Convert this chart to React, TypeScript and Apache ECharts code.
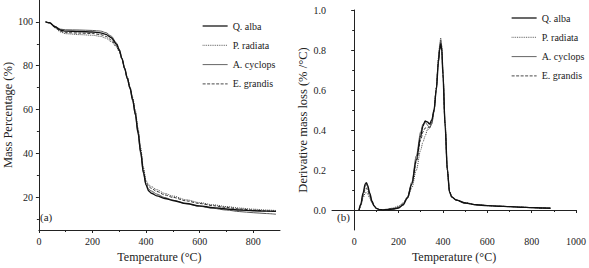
import React, { useEffect, useRef } from "react";
import * as echarts from "echarts";

// ---- Data ----
const SERIES_NAMES = ["Q. alba", "P. radiata", "A. cyclops", "E. grandis"];

// TGA (mass percentage vs temperature)
const TGA_T = [25, 40, 60, 80, 100, 150, 200, 230, 250, 270, 290, 300, 310, 320, 330, 340, 350, 360, 370, 380, 390, 400, 410, 420, 440, 470, 500, 550, 600, 650, 700, 750, 800, 850, 885];
const TGA_QALBA = [100, 99.6, 97.8, 96.3, 95.8, 95.6, 95.4, 95.0, 94.3, 92.8, 89.8, 87.2, 83.3, 78.8, 74.3, 69.8, 64.5, 58, 49.5, 40.5, 31.5, 25.5, 22.8, 21.8, 20.6, 19.4, 18.5, 17.1, 16.0, 15.2, 14.6, 14.1, 13.8, 13.6, 13.5];
const TGA_PRADIATA = [100, 99.5, 97.3, 95.4, 94.6, 94.2, 93.9, 93.4, 92.6, 91.0, 88.5, 86.3, 83.0, 79.0, 75.0, 70.5, 65.5, 59.5, 51.5, 42.5, 33.5, 27.5, 25.6, 24.8, 23.4, 21.7, 20.5, 18.8, 17.5, 16.5, 15.7, 15.0, 14.5, 14.1, 13.9];
const TGA_ACYCLOPS = [100, 99.6, 98.0, 96.7, 96.4, 96.3, 96.1, 95.8, 95.1, 93.5, 90.3, 87.5, 83.3, 78.6, 74.0, 69.5, 64.0, 57.5, 49.0, 40.0, 31.0, 25.8, 23.6, 22.8, 21.4, 19.8, 18.6, 17.0, 15.8, 14.9, 14.1, 13.4, 12.9, 12.5, 12.2];
const TGA_EGRANDIS = [100, 99.5, 97.5, 95.7, 95.1, 94.9, 94.7, 94.2, 93.4, 91.8, 89.0, 86.6, 83.0, 78.8, 74.5, 70.0, 65.0, 58.8, 50.5, 41.5, 32.5, 26.8, 24.8, 24.0, 22.6, 21.0, 19.9, 18.3, 17.1, 16.1, 15.3, 14.6, 14.1, 13.7, 13.5];

// DTG (derivative mass loss vs temperature)
const DTG_T = [22, 30, 40, 50, 55, 60, 70, 80, 90, 100, 115, 130, 150, 175, 200, 220, 240, 260, 280, 300, 310, 320, 330, 340, 350, 360, 370, 380, 385, 390, 395, 400, 410, 420, 430, 440, 460, 500, 550, 600, 650, 700, 750, 800, 850, 885];
const DTG_QALBA = [0.0, 0.03, 0.085, 0.13, 0.137, 0.125, 0.085, 0.045, 0.02, 0.008, 0.002, 0.0, 0.002, 0.005, 0.01, 0.025, 0.06, 0.13, 0.25, 0.37, 0.42, 0.445, 0.44, 0.43, 0.45, 0.5, 0.6, 0.74, 0.8, 0.83, 0.8, 0.68, 0.42, 0.2, 0.09, 0.065, 0.05, 0.035, 0.026, 0.022, 0.019, 0.017, 0.014, 0.012, 0.01, 0.009];
const DTG_PRADIATA = [0.0, 0.02, 0.06, 0.085, 0.088, 0.082, 0.06, 0.035, 0.018, 0.008, 0.003, 0.002, 0.005, 0.01, 0.02, 0.035, 0.06, 0.11, 0.2, 0.3, 0.34, 0.37, 0.4, 0.41, 0.44, 0.5, 0.61, 0.76, 0.82, 0.86, 0.82, 0.7, 0.44, 0.21, 0.09, 0.066, 0.05, 0.036, 0.027, 0.022, 0.019, 0.017, 0.014, 0.012, 0.01, 0.009];
const DTG_ACYCLOPS = [0.0, 0.028, 0.08, 0.12, 0.128, 0.118, 0.08, 0.043, 0.02, 0.008, 0.002, 0.0, 0.002, 0.005, 0.012, 0.028, 0.065, 0.14, 0.27, 0.39, 0.43, 0.44, 0.425, 0.41, 0.43, 0.49, 0.6, 0.75, 0.81, 0.85, 0.81, 0.69, 0.43, 0.2, 0.09, 0.065, 0.05, 0.035, 0.026, 0.022, 0.019, 0.017, 0.014, 0.012, 0.01, 0.009];
const DTG_EGRANDIS = [0.0, 0.025, 0.07, 0.105, 0.11, 0.1, 0.07, 0.04, 0.02, 0.008, 0.002, 0.001, 0.003, 0.007, 0.015, 0.03, 0.063, 0.13, 0.24, 0.35, 0.39, 0.41, 0.41, 0.415, 0.44, 0.5, 0.61, 0.75, 0.8, 0.84, 0.8, 0.68, 0.42, 0.2, 0.09, 0.065, 0.05, 0.035, 0.026, 0.022, 0.019, 0.017, 0.014, 0.012, 0.01, 0.009];

// Tick labels
const A_X_LABELS = [0, 200, 400, 600, 800];
const A_X_MINOR = [100, 300, 500, 700];
const A_Y_LABELS = [20, 40, 60, 80, 100];
const A_Y_MINOR = [10, 30, 50, 70, 90];
const B_X_LABELS = [0, 200, 400, 600, 800, 1000];
const B_X_MINOR = [100, 300, 500, 700, 900];
const B_Y_LABELS = [0, 0.2, 0.4, 0.6, 0.8, 1.0];
const B_Y_MINOR = [0.1, 0.3, 0.5, 0.7, 0.9];

const FONT = "Liberation Serif";
const AX = "#222";

const STYLES = [
  { color: "#111", width: 1.4, type: "solid" },
  { color: "#444", width: 1, type: "dotted" },
  { color: "#555", width: 1, type: "solid" },
  { color: "#333", width: 1, type: [3, 1.5] },
];

function pairs(xs: number[], ys: number[]) {
  return xs.map((x, i) => [x, ys[i]]);
}

function mainAxis(gridIndex: number, min: number, max: number, labels: number[], pos: string, name: string, nameGap: number, nameSize: number, fmt?: (v: number) => string) {
  return {
    type: "value",
    gridIndex,
    position: pos,
    min,
    max,
    name,
    nameLocation: "middle",
    nameGap,
    nameTextStyle: { fontFamily: FONT, fontSize: nameSize, color: AX },
    axisLine: { show: true, lineStyle: { color: AX, width: 1 } },
    axisTick: { show: true, inside: false, length: 3, customValues: labels, lineStyle: { color: AX } },
    axisLabel: {
      show: true,
      customValues: labels,
      fontFamily: FONT,
      fontSize: 10,
      color: AX,
      margin: 6,
      formatter: fmt ? (v: number) => fmt(v) : (v: number) => String(v),
    },
    splitLine: { show: false },
  };
}

function minorAxis(gridIndex: number, min: number, max: number, ticks: number[], pos: string) {
  return {
    type: "value",
    gridIndex,
    position: pos,
    min,
    max,
    axisLine: { show: false },
    axisTick: { show: true, inside: false, length: 2, customValues: ticks, lineStyle: { color: AX } },
    axisLabel: { show: false },
    splitLine: { show: false },
  };
}

export default function App() {
  const ref = useRef<HTMLDivElement>(null);

  useEffect(() => {
    if (!ref.current) return;
    const chart = echarts.init(ref.current, undefined, { renderer: "svg" });

    const tga = [TGA_QALBA, TGA_PRADIATA, TGA_ACYCLOPS, TGA_EGRANDIS];
    const dtg = [DTG_QALBA, DTG_PRADIATA, DTG_ACYCLOPS, DTG_EGRANDIS];

    const series: any[] = [];
    SERIES_NAMES.forEach((name, i) => {
      series.push({
        name,
        type: "line",
        xAxisIndex: 0,
        yAxisIndex: 0,
        data: pairs(TGA_T, tga[i]),
        showSymbol: false,
        symbol: "none",
        smooth: 0.3,
        smoothMonotone: "x",
        lineStyle: { ...STYLES[i] },
        z: 10 - i,
      });
    });
    SERIES_NAMES.forEach((name, i) => {
      series.push({
        name,
        type: "line",
        xAxisIndex: 2,
        yAxisIndex: 2,
        data: pairs(DTG_T, dtg[i]),
        showSymbol: false,
        symbol: "none",
        smooth: 0.3,
        smoothMonotone: "x",
        lineStyle: { ...STYLES[i] },
        z: 10 - i,
      });
    });

    const legendData = SERIES_NAMES.map((name, i) => ({
      name,
      lineStyle: { width: STYLES[i].width * 0.9, type: STYLES[i].type, color: STYLES[i].color },
    }));

    const legendBase = {
      orient: "vertical",
      data: legendData,
      itemWidth: 25,
      itemHeight: 10,
      itemGap: 9.3,
      itemStyle: { opacity: 0 },
      textStyle: { fontFamily: FONT, fontSize: 10, color: AX },
      itemTextGap: 6,
      selectedMode: false,
    };

    chart.setOption({
      animation: false,
      backgroundColor: "#fff",
      textStyle: { fontFamily: FONT },
      grid: [
        { left: 35, top: 0, width: 245, height: 230 },
        { left: 332, top: 10, width: 253, height: 220 },
      ],
      xAxis: [
        mainAxis(0, 0, 900, A_X_LABELS, "bottom", "Temperature (\u00b0C)", 21, 12),
        minorAxis(0, 0, 900, A_X_MINOR, "bottom"),
        mainAxis(1, -100, 1000, B_X_LABELS, "bottom", "Temperature (\u00b0C)", 21, 12),
        minorAxis(1, -100, 1000, B_X_MINOR, "bottom"),
      ],
      yAxis: [
        mainAxis(0, 5, 110, A_Y_LABELS, "left", "Mass Percentage (%)", 22, 12.5),
        minorAxis(0, 5, 110, A_Y_MINOR, "left"),
        mainAxis(1, -0.1, 1.0, B_Y_LABELS, "left", "Derivative mass loss (% /\u00b0C)", 23, 12.5, (v: number) => v.toFixed(1)),
        minorAxis(1, -0.1, 1.0, B_Y_MINOR, "left"),
      ],
      legend: [
        { ...legendBase, left: 197, top: 16 },
        { ...legendBase, left: 506, top: 8 },
      ],
      graphic: [
        { type: "text", left: 40, top: 211, z: 100, style: { text: "(a)", font: `11px ${FONT}`, fill: AX } },
        { type: "text", left: 337, top: 211, z: 100, style: { text: "(b)", font: `11px ${FONT}`, fill: AX } },
      ],
      series,
    });

    return () => chart.dispose();
  }, []);

  return (
    <div
      ref={ref}
      style={{ position: "fixed", left: 0, top: 0, width: 589, height: 268 }}
    />
  );
}
